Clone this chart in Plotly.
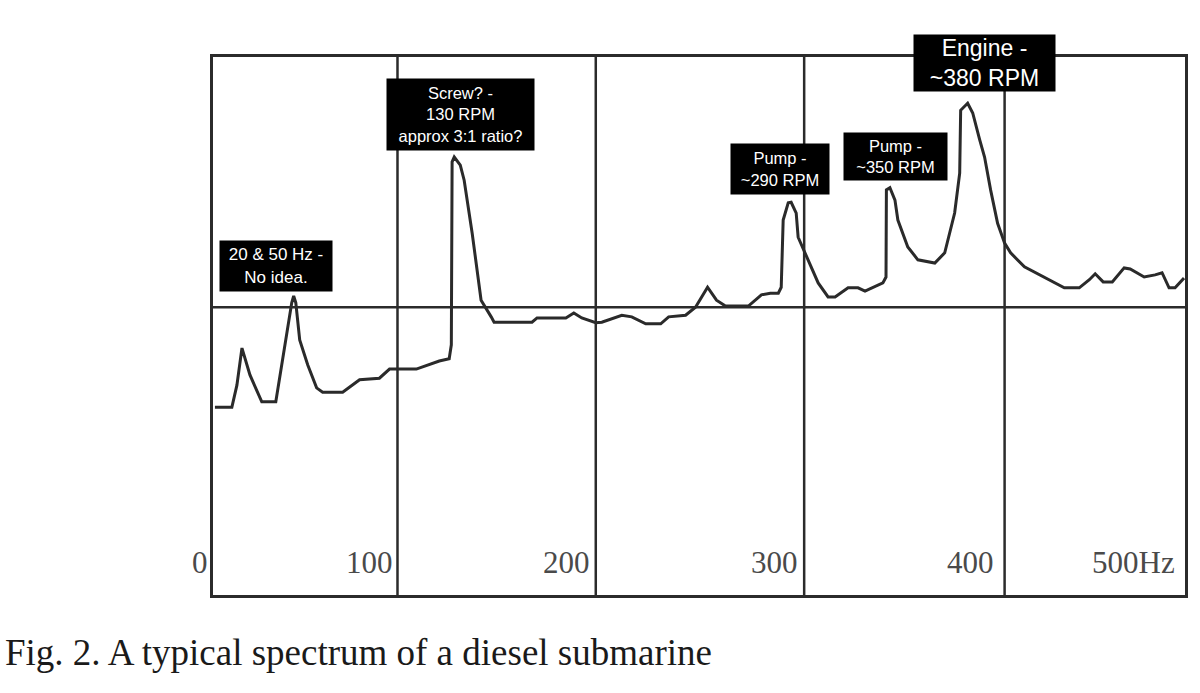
import plotly.graph_objects as go

# Spectrum trace (frequency in Hz, relative level 0-100)
freq_hz = [1.0, 9.7, 12.3, 14.9, 19.0, 25.1, 32.3, 36.9, 40.5, 41.5, 42.6, 44.6, 48.7, 53.3,
           56.4, 66.7, 75.4, 85.6, 90.8, 104.6, 116.4, 121.5, 122.6, 123.0, 124.1, 127.2,
           129.2, 133.3, 137.9, 143.1, 144.6, 164.1, 166.7, 181.5, 185.6, 189.7, 196.9,
           200.0, 210.3, 215.4, 222.6, 230.3, 234.4, 243.1, 248.2, 254.4, 259.0, 263.6,
           275.4, 282.1, 286.7, 290.8, 292.3, 293.3, 295.9, 297.4, 300.0, 301.0, 306.2,
           311.3, 316.4, 320.0, 326.7, 331.8, 335.4, 344.6, 346.2, 346.4, 348.2, 350.8,
           352.3, 357.4, 362.6, 371.3, 376.4, 381.5, 384.1, 384.6, 388.2, 390.8, 394.4,
           396.9, 400.0, 403.6, 407.2, 410.3, 417.4, 427.7, 437.9, 445.6, 450.8, 453.8,
           457.9, 462.6, 468.7, 471.8, 479.0, 484.6, 488.2, 491.8, 494.9, 499.5]
level = [34.9, 34.9, 39.0, 45.9, 40.9, 35.9, 35.9, 46.5, 54.3, 55.6, 54.3, 47.4, 42.8, 38.5,
         37.7, 37.7, 40.0, 40.3, 42.0, 42.0, 43.5, 43.9, 46.5, 80.5, 81.4, 79.9,
         77.1, 67.3, 54.8, 51.7, 50.7, 50.7, 51.5, 51.5, 52.4, 51.5, 50.6,
         50.7, 52.0, 51.7, 50.4, 50.4, 51.7, 52.0, 53.5, 57.2, 54.8, 53.7,
         53.7, 55.8, 56.1, 56.1, 57.2, 69.7, 72.9, 73.0, 71.0, 66.5, 62.3,
         58.0, 55.4, 55.4, 57.1, 57.1, 56.5, 58.0, 59.1, 75.3, 75.7, 73.4,
         69.7, 64.7, 62.3, 61.7, 63.6, 71.0, 78.4, 90.1, 91.4, 89.6, 84.6,
         81.4, 75.3, 69.1, 65.4, 63.6, 61.0, 59.1, 57.1, 57.1, 58.6, 59.7,
         58.2, 58.2, 60.8, 60.6, 59.1, 59.5, 59.9, 57.1, 57.1, 58.9]

# Grid of the printed chart (positions)
divider_hz = [94.9, 196.9, 304.1, 407.2]
mid_level = 53.5

# Axis tick labels printed along the bottom of the frame (right edge positions)
tick_text = ["0", "100", "200", "300", "400", "500Hz"]
tick_pos_hz = [-1.8, 93.8, 194.9, 302.1, 402.6, 495.8]
tick_level = 6.1

# Callout boxes
note_text = ["20 & 50 Hz -<br>No idea.",
             "Screw? -<br>130 RPM<br>approx 3:1 ratio?",
             "Pump -<br>~290 RPM",
             "Pump -<br>~350 RPM",
             "Engine -<br>~380 RPM"]
note_hz = [32.3, 127.4, 291.8, 351.0, 396.7]
note_level = [61.2, 89.3, 79.2, 81.5, 98.9]
note_size = [17, 16.5, 16.5, 16.5, 23]
note_w = [106, 141, 92, 97, 135]
note_h = [44, 65, 44, 41, 50]

caption = "Fig. 2. A typical spectrum of a diesel submarine"

LINE = "#2b2b2b"
X0, X1 = 0, 500
Y0, Y1 = 0, 100


def to_paper_x(v):
    return (v - X0) / (X1 - X0)


def to_paper_y(v):
    return (v - Y0) / (Y1 - Y0)


fig = go.Figure()
fig.add_trace(go.Scatter(x=freq_hz, y=level, mode="lines",
                         line=dict(color="#2a2a2a", width=3), hoverinfo="skip",
                         showlegend=False))

shapes = []
for d in divider_hz:
    shapes.append(dict(type="line", xref="x", yref="y", x0=d, x1=d, y0=Y0, y1=Y1,
                       line=dict(color=LINE, width=2.5), layer="below"))
shapes.append(dict(type="line", xref="x", yref="y", x0=X0, x1=X1, y0=mid_level, y1=mid_level,
                   line=dict(color=LINE, width=2.5), layer="below"))

annotations = []
for t, p in zip(tick_text, tick_pos_hz):
    annotations.append(dict(x=to_paper_x(p), y=to_paper_y(tick_level), xref="paper", yref="paper",
                            text=t, showarrow=False, xanchor="right", yanchor="middle",
                            font=dict(family="Liberation Serif", size=31, color="#4a4a4a")))
for t, hx, ly, fs, w, h in zip(note_text, note_hz, note_level, note_size, note_w, note_h):
    annotations.append(dict(x=to_paper_x(hx), y=to_paper_y(ly), xref="paper", yref="paper",
                            text=t, showarrow=False,
                            xanchor="center", yanchor="middle", align="center",
                            bgcolor="black", borderpad=3, width=w, height=h,
                            font=dict(family="Liberation Sans", size=fs, color="white")))
annotations.append(dict(x=-211 / 975, y=-57 / 538, xref="paper", yref="paper", text=caption,
                        showarrow=False, xanchor="left", yanchor="middle",
                        font=dict(family="Liberation Serif", size=37, color="#1a1a1a")))

fig.update_layout(
    width=1200, height=693,
    margin=dict(l=213, r=12, t=57, b=98),
    paper_bgcolor="white", plot_bgcolor="white",
    shapes=shapes, annotations=annotations,
    xaxis=dict(range=[X0, X1], showgrid=False, zeroline=False, showticklabels=False,
               ticks="", showline=True, mirror=True, linecolor=LINE, linewidth=2.5),
    yaxis=dict(range=[Y0, Y1], showgrid=False, zeroline=False, showticklabels=False,
               ticks="", showline=True, mirror=True, linecolor=LINE, linewidth=2.5),
)

fig.write_html("out.html")
